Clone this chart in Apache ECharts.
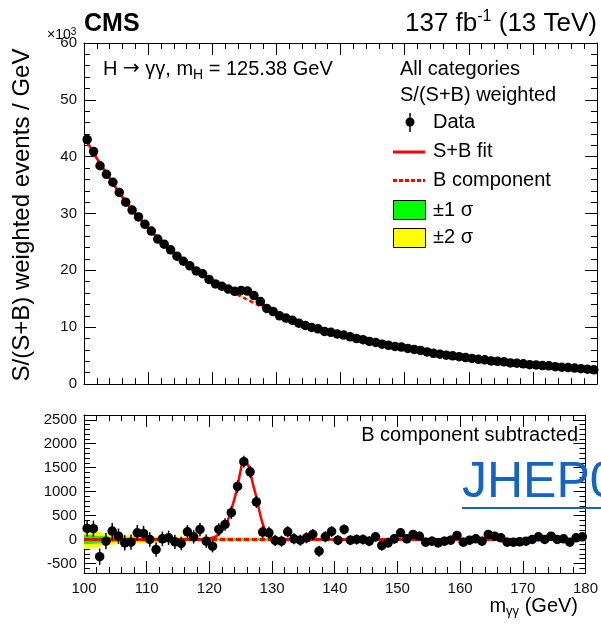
<!DOCTYPE html>
<html>
<head>
<meta charset="utf-8">
<script src="https://cdn.jsdelivr.net/npm/echarts@6/dist/echarts.min.js"></script>
<style>
  html, body { margin: 0; padding: 0; background: #fff; }
  #chart { width: 601px; height: 624px; }
</style>
</head>
<body>
<div id="chart"></div>
<script>
const FONT = '"Liberation Sans", Arial, Helvetica, sans-serif';

// centres of the 1 GeV diphoton-mass bins
const massBins = [
  100.5, 101.5, 102.5, 103.5, 104.5, 105.5, 106.5, 107.5, 108.5, 109.5,
  110.5, 111.5, 112.5, 113.5, 114.5, 115.5, 116.5, 117.5, 118.5, 119.5,
  120.5, 121.5, 122.5, 123.5, 124.5, 125.5, 126.5, 127.5, 128.5, 129.5,
  130.5, 131.5, 132.5, 133.5, 134.5, 135.5, 136.5, 137.5, 138.5, 139.5,
  140.5, 141.5, 142.5, 143.5, 144.5, 145.5, 146.5, 147.5, 148.5, 149.5,
  150.5, 151.5, 152.5, 153.5, 154.5, 155.5, 156.5, 157.5, 158.5, 159.5,
  160.5, 161.5, 162.5, 163.5, 164.5, 165.5, 166.5, 167.5, 168.5, 169.5,
  170.5, 171.5, 172.5, 173.5, 174.5, 175.5, 176.5, 177.5, 178.5, 179.5
];

// S/(S+B) weighted events / GeV, in units of 10^3
const weightedEvents = [
  43.0, 40.9, 38.4, 36.9, 35.5, 33.7, 32.0, 30.6, 29.4, 28.1,
  26.9, 25.5, 24.6, 23.6, 22.5, 21.6, 20.8, 19.9, 19.4, 18.4,
  17.6, 17.2, 16.7, 16.3, 16.45, 16.35, 15.55, 14.5, 13.3, 12.75,
  12.0, 11.6, 11.2, 10.7, 10.3, 9.95, 9.7, 9.25, 9.1, 8.8,
  8.6, 8.3, 8.0, 7.8, 7.5, 7.3, 7.0, 6.8, 6.6, 6.5,
  6.25, 6.07, 5.9, 5.65, 5.4, 5.25, 5.07, 4.95, 4.8, 4.65,
  4.5, 4.35, 4.25, 4.05, 4.0, 3.9, 3.7, 3.65, 3.55, 3.4,
  3.35, 3.25, 3.2, 3.05, 2.95, 2.9, 2.8, 2.7, 2.6, 2.5
];

// data minus the B component (weighted events / GeV)
const bSubtracted = [
  230, 225, -360, -35, 175, 70, -70, -56, 140, 126,
  0, -210, 14, 35, -49, -84, 161, 56, 210, -35,
  -140, 210, 315, 560, 1107, 1624, 1414, 784, 154, 140,
  -21, -35, 161, 14, -14, 35, 105, -245, 56, 168,
  -14, 210, -14, 0, 0, -35, 56, -126, -70, 14,
  140, 14, 105, 70, -56, -35, -70, -35, -14, 84,
  -56, -14, 14, -35, 105, 70, 35, -56, -56, -49,
  -35, 0, 56, 0, 70, 0, 14, -56, 35, 56
];

// statistical uncertainty of each bin (weighted events / GeV)
const binErrors = [
  170, 170, 170, 170, 170, 160, 160, 160, 160, 160,
  150, 150, 150, 150, 150, 140, 140, 140, 140, 140,
  130, 130, 130, 130, 130, 125, 125, 125, 125, 125,
  115, 115, 115, 115, 115, 115, 115, 115, 115, 115,
  105, 105, 105, 105, 105, 105, 105, 105, 105, 105,
  95, 95, 95, 95, 95, 95, 95, 95, 95, 95,
  90, 90, 90, 90, 90, 90, 90, 90, 90, 90,
  85, 85, 85, 85, 85, 85, 85, 85, 85, 85
];

// background-only fit (10^3 events / GeV)
const bkgMass = [100, 101, 102.5, 105, 107.5, 110, 112.5, 115, 117.5, 120, 122.5, 125,
                 127.5, 130, 135, 140, 145, 150, 155, 160, 165, 170, 175, 180];
const bkgFit  = [43.6, 41.6, 38.8, 34.5, 30.6, 27.5, 24.5, 22.0, 19.9, 18.1, 16.57, 15.1,
                 13.72, 12.4, 10.15, 8.65, 7.4, 6.3, 5.35, 4.55, 3.95, 3.4, 2.95, 2.5];

// signal-plus-background fit (10^3 events / GeV)
const sbMass = [100, 101, 102.5, 105, 107.5, 110, 112.5, 115, 117.5, 118, 119, 120, 121, 122, 123,
                124, 124.5, 125, 125.4, 125.8, 126.3, 127, 127.5, 128, 128.5, 129, 129.5, 130, 131,
                135, 140, 145, 150, 155, 160, 165, 170, 175, 180];
const sbFit  = [43.6, 41.6, 38.8, 34.5, 30.6, 27.5, 24.5, 22.0, 19.9, 19.55, 18.81, 18.12, 17.51, 17.02, 16.72,
                16.6, 16.5, 16.55, 16.52, 16.29, 15.9, 15.13, 14.6, 14.03, 13.5, 13.06, 12.72, 12.43, 11.95,
                10.15, 8.65, 7.4, 6.3, 5.35, 4.55, 3.95, 3.4, 2.95, 2.5];

// fitted signal after background subtraction (events / GeV)
const sigMass = [100, 117, 119, 120, 121, 122, 123, 124, 124.5, 125, 125.4, 125.8, 126.3,
                 127, 127.5, 128, 128.5, 129, 129.5, 130, 131, 132, 180];
const sigFit  = [0, 0, 5, 20, 60, 170, 420, 850, 1120, 1450, 1640, 1625, 1510,
                 1130, 880, 580, 330, 160, 70, 25, 5, 0, 0];

// half-widths of the background uncertainty bands (events / GeV)
const bandMass = [100, 101, 102, 103, 104, 105, 107, 110, 115, 120, 130, 140, 150, 160, 170, 180];
const band1Sigma = [100, 92, 80, 68, 58, 50, 43, 36, 30, 28, 24, 22, 21, 20, 21, 24];
const band2Sigma = [200, 185, 160, 135, 115, 100, 85, 70, 60, 55, 48, 44, 42, 40, 42, 48];

// background curve on the band knots (upper-panel band centre, 10^3 events / GeV)
const bandCentreTop = [43.6, 41.6, 39.5, 37.5, 35.9, 34.5, 32.0, 27.5, 22.0, 18.1, 12.4, 8.65, 6.3, 4.55, 3.4, 2.5];
const bandCentreSub = [0, 0, 0, 0, 0, 0, 0, 0, 0, 0, 0, 0, 0, 0, 0, 0];

const mainPoints = massBins.map((m, i) => [m, weightedEvents[i]]);
const mainErrors = massBins.map((m, i) => [m, weightedEvents[i], binErrors[i] / 1000]);
const subPoints  = massBins.map((m, i) => [m, bSubtracted[i]]);
const subErrors  = massBins.map((m, i) => [m, bSubtracted[i], binErrors[i]]);

const RED = '#ff0000', GREEN = '#00ff00', YELLOW = '#ffff00';
const LABEL = { color: '#111', fontFamily: FONT, fontSize: 15 };

// band polygon around a centre curve (centre given on the band knots)
function bandSeries(name, xIdx, yIdx, halfWidths, scale, centre, color, z) {
  return {
    name, type: 'custom', xAxisIndex: xIdx, yAxisIndex: yIdx, z, silent: true,
    data: [[bandMass[0], centre[0]]],
    encode: { x: 0, y: 1 },
    renderItem: (params, api) => {
      const upper = bandMass.map((m, i) => api.coord([m, centre[i] + halfWidths[i] * scale]));
      const lower = bandMass.map((m, i) => api.coord([m, centre[i] - halfWidths[i] * scale])).reverse();
      return { type: 'polygon', shape: { points: upper.concat(lower) }, style: { fill: color } };
    }
  };
}

function errorBars(name, xIdx, yIdx, data, width) {
  return {
    name, type: 'custom', xAxisIndex: xIdx, yAxisIndex: yIdx, z: 6, silent: true,
    data, encode: { x: 0, y: 1 },
    renderItem: (params, api) => {
      const x = api.value(0), y = api.value(1), e = api.value(2);
      const a = api.coord([x, y - e]), b = api.coord([x, y + e]);
      return { type: 'line', shape: { x1: a[0], y1: a[1], x2: b[0], y2: b[1] },
               style: { stroke: '#000', lineWidth: width } };
    }
  };
}

const plainNumber = v => String(v);

const xCommon = { type: 'value', min: 100, max: 180, interval: 10,
  axisLine: { show: true, onZero: false, lineStyle: { color: '#000', width: 1 } },
  axisTick: { show: true, inside: true, length: 12, lineStyle: { color: '#000' } },
  minorTick: { show: true, splitNumber: 5, length: 6, lineStyle: { color: '#000' } },
  splitLine: { show: false } };

const chart = echarts.init(document.getElementById('chart'), null, { renderer: 'canvas' });

chart.setOption({
  animation: false,
  backgroundColor: '#fff',
  grid: [
    { left: 84, right: 4, top: 43, height: 341 },
    { left: 84, right: 4, top: 415, height: 158 }
  ],
  xAxis: [
    Object.assign({}, xCommon, { gridIndex: 0, position: 'bottom', axisLabel: { show: false } }),
    Object.assign({}, xCommon, { gridIndex: 0, position: 'top', axisLabel: { show: false } }),
    Object.assign({}, xCommon, { gridIndex: 1, position: 'bottom',
      axisLabel: Object.assign({ show: true, margin: 8, formatter: plainNumber,
        alignMinLabel: 'center', alignMaxLabel: 'center' }, LABEL) }),
    Object.assign({}, xCommon, { gridIndex: 1, position: 'top', axisLabel: { show: false } })
  ],
  yAxis: [
    { type: 'value', gridIndex: 0, position: 'left', min: 0, max: 60, interval: 10,
      axisLine: { show: true, onZero: false, lineStyle: { color: '#000' } },
      axisTick: { show: true, inside: true, length: 12, lineStyle: { color: '#000' } },
      minorTick: { show: true, splitNumber: 5, length: 6, lineStyle: { color: '#000' } },
      axisLabel: Object.assign({ margin: 7, formatter: plainNumber }, LABEL), splitLine: { show: false } },
    { type: 'value', gridIndex: 0, position: 'right', min: 0, max: 60, interval: 10,
      axisLine: { show: true, onZero: false, lineStyle: { color: '#000' } },
      axisTick: { show: true, inside: true, length: 12, lineStyle: { color: '#000' } },
      minorTick: { show: true, splitNumber: 5, length: 6, lineStyle: { color: '#000' } },
      axisLabel: { show: false }, splitLine: { show: false } },
    // lower panel: labelled major ticks every 500
    { type: 'value', gridIndex: 1, position: 'left', min: -700, max: 2600, splitNumber: 5,
      axisLine: { show: true, onZero: false, lineStyle: { color: '#000' } },
      axisTick: { show: true, inside: true, length: 12, lineStyle: { color: '#000' } },
      axisLabel: Object.assign({ margin: 7, showMinLabel: false, showMaxLabel: false, formatter: plainNumber }, LABEL),
      splitLine: { show: false } },
    { type: 'value', gridIndex: 1, position: 'right', min: -700, max: 2600, splitNumber: 5,
      axisLine: { show: true, onZero: false, lineStyle: { color: '#000' } },
      axisTick: { show: true, inside: true, length: 12, lineStyle: { color: '#000' } },
      axisLabel: { show: false }, splitLine: { show: false } },
    // lower panel: minor ticks every 100
    { type: 'value', gridIndex: 1, position: 'left', min: -700, max: 2600, interval: 100,
      axisLine: { show: false }, axisLabel: { show: false }, splitLine: { show: false },
      axisTick: { show: true, inside: true, length: 6, lineStyle: { color: '#000' } } },
    { type: 'value', gridIndex: 1, position: 'right', min: -700, max: 2600, interval: 100,
      axisLine: { show: false }, axisLabel: { show: false }, splitLine: { show: false },
      axisTick: { show: true, inside: true, length: 6, lineStyle: { color: '#000' } } }
  ],
  series: [
    // upper panel
    bandSeries('±2 σ', 0, 0, band2Sigma, 0.001, bandCentreTop, YELLOW, 1),
    bandSeries('±1 σ', 0, 0, band1Sigma, 0.001, bandCentreTop, GREEN, 2),
    { name: 'B component', type: 'line', xAxisIndex: 0, yAxisIndex: 0, z: 3,
      data: bkgMass.map((m, i) => [m, bkgFit[i]]), smooth: 0.3, symbol: 'none',
      lineStyle: { color: RED, width: 2.5, type: [4, 3] } },
    { name: 'S+B fit', type: 'line', xAxisIndex: 0, yAxisIndex: 0, z: 4,
      data: sbMass.map((m, i) => [m, sbFit[i]]), smooth: 0.3, symbol: 'none',
      lineStyle: { color: RED, width: 2.5 } },
    errorBars('data errors', 0, 0, mainErrors, 1.5),
    { name: 'Data', type: 'scatter', xAxisIndex: 0, yAxisIndex: 0, z: 7,
      data: mainPoints, symbol: 'circle', symbolSize: 9.5, itemStyle: { color: '#000', opacity: 1 } },

    // lower panel
    bandSeries('±2 σ sub', 2, 2, band2Sigma, 1, bandCentreSub, YELLOW, 1),
    bandSeries('±1 σ sub', 2, 2, band1Sigma, 1, bandCentreSub, GREEN, 2),
    { name: 'B component sub', type: 'line', xAxisIndex: 2, yAxisIndex: 2, z: 3,
      data: [[100, 0], [180, 0]], symbol: 'none',
      lineStyle: { color: RED, width: 3, type: [5, 3] } },
    { name: 'S+B fit sub', type: 'line', xAxisIndex: 2, yAxisIndex: 2, z: 4,
      data: sigMass.map((m, i) => [m, sigFit[i]]), smooth: 0.3, symbol: 'none',
      lineStyle: { color: RED, width: 2.5 } },
    errorBars('data errors sub', 2, 2, subErrors, 1.5),
    { name: 'Data sub', type: 'scatter', xAxisIndex: 2, yAxisIndex: 2, z: 7,
      data: subPoints, symbol: 'circle', symbolSize: 9.5, itemStyle: { color: '#000', opacity: 1 } }
  ],
  graphic: [
    { type: 'text', x: 84, y: 24, style: { text: 'CMS', font: 'bold 25px ' + FONT, fill: '#000',
      align: 'left', verticalAlign: 'middle' } },
    { type: 'text', x: 597, y: 24, style: {
      text: '{n|137 fb}{s|-1}{n| (13 TeV)}', align: 'right', verticalAlign: 'middle',
      rich: { n: { fontFamily: FONT, fontSize: 26, lineHeight: 30, color: '#000' },
              s: { fontFamily: FONT, fontSize: 16, lineHeight: 16, verticalAlign: 'top', color: '#000' } } } },
    { type: 'text', x: 47, y: 35, style: {
      text: '{n|×10}{s|3}', align: 'left', verticalAlign: 'middle',
      rich: { n: { fontFamily: FONT, fontSize: 14, lineHeight: 16, color: '#000' },
              s: { fontFamily: FONT, fontSize: 10, lineHeight: 10, verticalAlign: 'top', color: '#000' } } } },
    { type: 'text', x: 22, y: 215, rotation: Math.PI / 2, style: {
      text: 'S/(S+B) weighted events / GeV', font: '24px ' + FONT, fill: '#000',
      align: 'center', verticalAlign: 'middle' } },
    { type: 'text', x: 103, y: 69, style: {
      text: '{n|H }{a|→}{n| γγ, m}{b|H}{n| = 125.38 GeV}', align: 'left', verticalAlign: 'middle',
      rich: { n: { fontFamily: FONT, fontSize: 20, lineHeight: 26, color: '#000' },
              a: { fontFamily: '"DejaVu Sans", sans-serif', fontSize: 20, lineHeight: 26, color: '#000' },
              b: { fontFamily: FONT, fontSize: 14, lineHeight: 14, verticalAlign: 'bottom', color: '#000' } } } },

    // legend
    { type: 'text', x: 400, y: 69, style: { text: 'All categories', font: '20px ' + FONT, fill: '#000', verticalAlign: 'middle' } },
    { type: 'text', x: 400, y: 95, style: { text: 'S/(S+B) weighted', font: '20px ' + FONT, fill: '#000', verticalAlign: 'middle' } },
    { type: 'line', shape: { x1: 410, y1: 113, x2: 410, y2: 132 }, style: { stroke: '#000', lineWidth: 1.5 } },
    { type: 'circle', shape: { cx: 410, cy: 122, r: 4.5 }, style: { fill: '#000' } },
    { type: 'text', x: 433, y: 122, style: { text: 'Data', font: '20px ' + FONT, fill: '#000', verticalAlign: 'middle' } },
    { type: 'line', shape: { x1: 393, y1: 152, x2: 425, y2: 152 }, style: { stroke: RED, lineWidth: 3 } },
    { type: 'text', x: 433, y: 151.5, style: { text: 'S+B fit', font: '20px ' + FONT, fill: '#000', verticalAlign: 'middle' } },
    { type: 'line', shape: { x1: 393, y1: 180.5, x2: 425, y2: 180.5 }, style: { stroke: RED, lineWidth: 3, lineDash: [4, 2] } },
    { type: 'text', x: 433, y: 180, style: { text: 'B component', font: '20px ' + FONT, fill: '#000', verticalAlign: 'middle' } },
    { type: 'rect', shape: { x: 393.5, y: 200.5, width: 32, height: 19 }, style: { fill: GREEN, stroke: '#000', lineWidth: 1 } },
    { type: 'text', x: 433, y: 210, style: { text: '±1 σ', font: '20px ' + FONT, fill: '#000', verticalAlign: 'middle' } },
    { type: 'rect', shape: { x: 393.5, y: 228.5, width: 32, height: 19 }, style: { fill: YELLOW, stroke: '#000', lineWidth: 1 } },
    { type: 'text', x: 433, y: 237.5, style: { text: '±2 σ', font: '20px ' + FONT, fill: '#000', verticalAlign: 'middle' } },

    // lower panel caption
    { type: 'text', x: 578, y: 435, style: { text: 'B component subtracted', font: '20px ' + FONT, fill: '#000',
      align: 'right', verticalAlign: 'middle' } },
    { type: 'text', x: 462, y: 483, z: 20, style: { text: 'JHEP07(2021)027', font: '50px ' + FONT, fill: '#1565c0',
      align: 'left', verticalAlign: 'middle' } },
    { type: 'rect', z: 20, shape: { x: 462, y: 507, width: 140, height: 2 }, style: { fill: '#1565c0' } },

    // x-axis title
    { type: 'text', x: 578, y: 606, style: {
      text: '{n|m}{b|γγ}{n| (GeV)}', align: 'right', verticalAlign: 'middle',
      rich: { n: { fontFamily: FONT, fontSize: 20, lineHeight: 24, color: '#000' },
              b: { fontFamily: FONT, fontSize: 13, lineHeight: 13, verticalAlign: 'bottom', color: '#000' } } } }
  ]
});
</script>
</body>
</html>
